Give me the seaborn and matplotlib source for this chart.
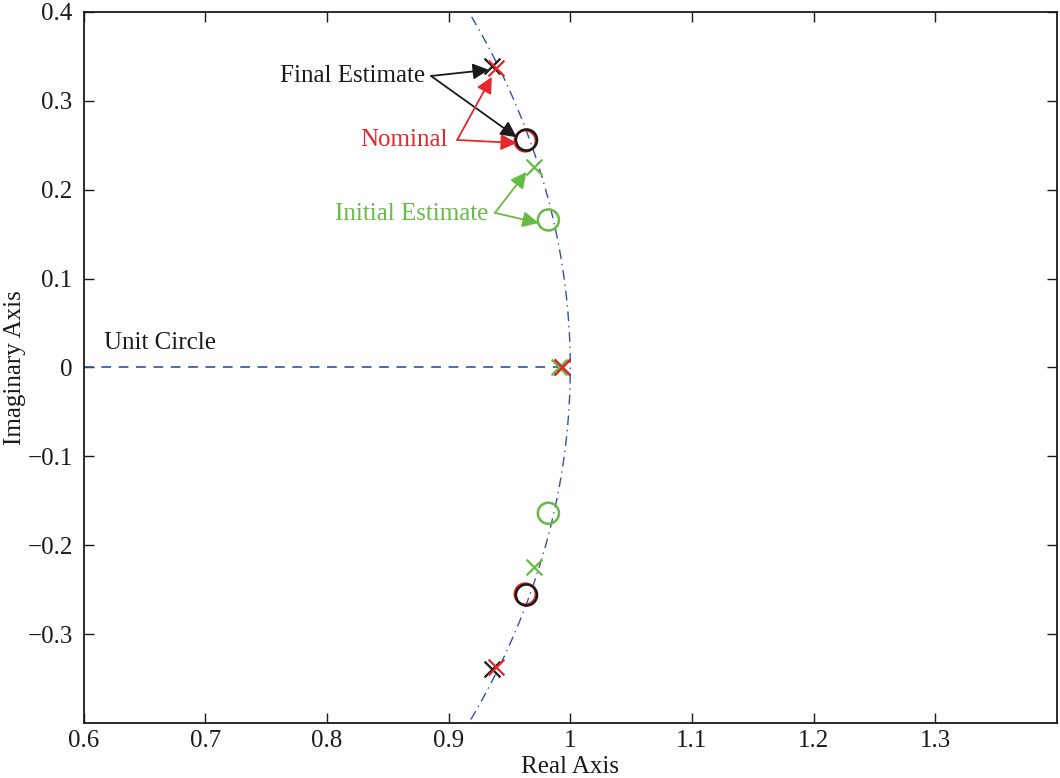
import numpy as np
import pandas as pd
import matplotlib
matplotlib.use("Agg")
import matplotlib.pyplot as plt
import seaborn as sns

# ---- data ----
nominal_pole_re = [0.939, 0.939, 0.993]
nominal_pole_im = [0.337, -0.337, 0.0]
nominal_zero_re = [0.963, 0.963]
nominal_zero_im = [0.255, -0.255]

final_pole_re = [0.936, 0.936, 0.993]
final_pole_im = [0.339, -0.339, 0.0]
final_zero_re = [0.964, 0.964]
final_zero_im = [0.256, -0.256]

initial_pole_re = [0.970, 0.970, 0.991]
initial_pole_im = [0.226, -0.225, 0.0]
initial_zero_re = [0.982, 0.982]
initial_zero_im = [0.166, -0.164]

x_ticks = [0.6, 0.7, 0.8, 0.9, 1.0, 1.1, 1.2, 1.3]
x_tick_labels = ["0.6", "0.7", "0.8", "0.9", "1", "1.1", "1.2", "1.3"]
y_ticks = [0.4, 0.3, 0.2, 0.1, 0.0, -0.1, -0.2, -0.3]
y_tick_labels = ["0.4", "0.3", "0.2", "0.1", "0", "\u22120.1", "\u22120.2", "\u22120.3"]

RED = "#E8262B"
GREEN = "#66BB44"
BLACK = "#1a1a1a"
BLUE = "#3452A4"

sns.set_theme(style="ticks")
plt.rcParams["font.family"] = ["Liberation Serif", "DejaVu Serif"]
plt.rcParams["lines.scale_dashes"] = False
FS = 18

fig = plt.figure(figsize=(10.6, 7.78), dpi=100)
ax = fig.add_axes([0.079, 0.0707, 0.918, 0.9139])

# unit circle
theta = np.linspace(np.pi / 2, 3 * np.pi / 2, 721)
circ = pd.DataFrame({"re": -np.cos(theta), "im": np.sin(theta)})
sns.lineplot(data=circ, x="re", y="im", sort=False, ax=ax, color=BLUE, lw=1.0,
             linestyle=(0, (7, 3.5, 1, 3.5)), estimator=None)
# real axis dashed line
axis_df = pd.DataFrame({"re": [0.6, 1.0], "im": [0.0, 0.0]})
sns.lineplot(data=axis_df, x="re", y="im", ax=ax, color=BLUE, lw=1.2,
             linestyle=(0, (7, 5.5)), estimator=None)

def xmark(re, im, color, z):
    sns.scatterplot(x=re, y=im, ax=ax, marker="x", s=130, color=color,
                    linewidth=1.6, zorder=z)

def omark(re, im, color, z):
    sns.scatterplot(x=re, y=im, ax=ax, marker="o", s=230, facecolors="none",
                    edgecolor=color, linewidth=1.8, zorder=z)

xmark(final_pole_re, final_pole_im, BLACK, 4)
omark(final_zero_re, final_zero_im, BLACK, 5)
xmark(initial_pole_re, initial_pole_im, GREEN, 4)
omark(initial_zero_re, initial_zero_im, GREEN, 4)
xmark(nominal_pole_re, nominal_pole_im, RED, 5)
omark(nominal_zero_re, nominal_zero_im, RED, 4)

ax.set_xlim(0.6, 1.4)
ax.set_ylim(-0.4, 0.4)
ax.set_xticks(x_ticks)
ax.set_xticklabels(x_tick_labels)
ax.set_yticks(y_ticks)
ax.set_yticklabels(y_tick_labels)
ax.tick_params(direction="in", length=7, width=1.0, labelsize=FS, top=True,
               right=True, colors=BLACK, pad=8)
ax.tick_params(axis="x", pad=5)
for s in ax.spines.values():
    s.set_visible(True)
    s.set_linewidth(1.3)
    s.set_color(BLACK)
ax.set_xlabel("Real Axis", fontsize=FS, color=BLACK, va="bottom")
ax.xaxis.set_label_coords(0.5, -(778 - 723) / 711.0)
ax.set_ylabel("Imaginary Axis", fontsize=FS, color=BLACK, va="center")
ax.yaxis.set_label_coords((15 - 84) / 973.0, 0.5)

# annotations
def arrow(start, tip, color):
    ax.annotate("", xy=tip, xytext=start,
                arrowprops=dict(arrowstyle="-|>", color=color, lw=1.3,
                                mutation_scale=24, shrinkA=0, shrinkB=0),
                zorder=6)

ax.text(0.8207, 0.328, "Final Estimate", color=BLACK, fontsize=FS,
        ha="center", va="center")
arrow((0.8855, 0.328), (0.933, 0.335), BLACK)
arrow((0.8855, 0.328), (0.956, 0.259), BLACK)

ax.text(0.863, 0.256, "Nominal", color=RED, fontsize=FS, ha="center", va="center")
arrow((0.907, 0.256), (0.9355, 0.327), RED)
arrow((0.907, 0.256), (0.956, 0.2526), RED)

ax.text(0.870, 0.1727, "Initial Estimate", color=GREEN, fontsize=FS,
        ha="center", va="center")
arrow((0.938, 0.174), (0.964, 0.220), GREEN)
arrow((0.938, 0.174), (0.974, 0.1626), GREEN)

ax.text(0.6624, 0.0276, "Unit Circle", color=BLACK, fontsize=FS,
        ha="center", va="center")

fig.savefig("out.png", dpi=100)
